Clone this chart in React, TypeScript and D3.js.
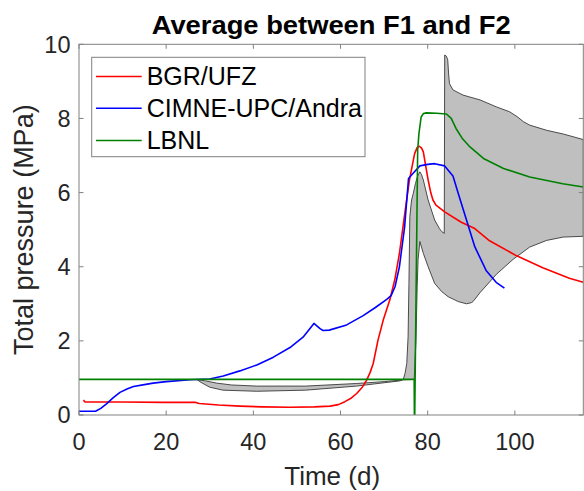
import React from "react";
import * as d3 from "d3";

// ---- Data ----
const redT = [1.0, 1.4, 10, 19.3, 26.8, 27.6, 32, 36.9, 42, 48.4, 54, 57.6, 59.5, 61, 62.5, 63.7, 65, 66, 66.8, 67.5, 68.6, 69.8, 71.3, 72.5, 73.5, 74.7, 75.8, 77.0, 77.6, 78.1, 78.6, 79.0, 79.5, 80.1, 80.7, 81.2, 81.9, 83.9, 87.7, 90.8, 94.2, 100.3, 106.4, 112.5, 115.7];
const redV = [0.40, 0.35, 0.35, 0.34, 0.34, 0.31, 0.27, 0.24, 0.22, 0.21, 0.22, 0.24, 0.28, 0.36, 0.46, 0.58, 0.75, 0.94, 1.15, 1.39, 2.02, 2.56, 3.1, 3.68, 4.35, 5.4, 6.33, 7.05, 7.22, 7.25, 7.2, 7.1, 6.75, 6.34, 6.0, 5.8, 5.66, 5.48, 5.2, 5.03, 4.7, 4.3, 3.97, 3.69, 3.58];

const blueT = [0, 3.8, 5, 6.3, 7.8, 9.4, 11, 12.5, 15, 17, 20, 25.5, 30, 33.1, 36.9, 40.8, 44.6, 48.4, 51.4, 53.9, 55.3, 56.0, 57.4, 61.4, 65.2, 68, 70.6, 71.6, 72.5, 73.5, 74.7, 75.6, 76.5, 78.2, 80, 81.6, 83.9, 85.8, 87, 88.9, 90.8, 93.4, 95.7, 97.6];
const blueV = [0.1, 0.1, 0.18, 0.3, 0.46, 0.61, 0.7, 0.77, 0.82, 0.86, 0.9, 0.95, 0.97, 1.05, 1.19, 1.35, 1.56, 1.82, 2.1, 2.47, 2.33, 2.28, 2.29, 2.43, 2.68, 2.9, 3.12, 3.22, 3.46, 3.99, 5.07, 6.38, 6.5, 6.72, 6.76, 6.78, 6.72, 6.45, 5.98, 5.26, 4.54, 3.9, 3.58, 3.42];

const greenT = [0, 76.9, 76.95, 77.02, 77.7, 78.0, 78.5, 79.0, 79.7, 82, 84.3, 85.4, 86.5, 88, 89.7, 92.8, 97.4, 103.4, 111, 115.7];
const greenV = [0.96, 0.96, -0.1, -0.1, 7.15, 7.6, 8.04, 8.13, 8.15, 8.14, 8.12, 8.0, 7.73, 7.45, 7.23, 6.92, 6.65, 6.42, 6.24, 6.15];

// envelope (grey band) of other results
const upperT = [27.0, 29, 31.6, 35, 40.8, 52, 63.7, 70, 73.6, 74.4, 74.8, 75.2, 75.5, 75.7, 75.9, 76.3, 76.7, 77.2, 77.7, 78.2, 78.6, 79.0, 80.1, 81.6, 82.7, 83.2, 83.8, 83.9, 84.3, 84.6, 84.8, 85.0, 85.8, 88.1, 92, 95.8, 98.8, 100.5, 102, 103.4, 107.3, 111.1, 115.7];
const upperV = [0.96, 0.92, 0.86, 0.81, 0.78, 0.78, 0.85, 0.9, 0.94, 0.96, 1.12, 1.39, 2.11, 3.55, 5.35, 5.8, 5.98, 6.25, 6.45, 6.56, 6.48, 6.34, 5.8, 5.26, 5.03, 4.95, 4.9, 9.71, 9.68, 9.58, 9.2, 8.94, 8.77, 8.63, 8.5, 8.31, 8.18, 8.05, 7.91, 7.82, 7.68, 7.58, 7.43];
const lowerT = [27.0, 28, 30, 33, 40.8, 52, 63.7, 70, 73.6, 74.4, 76.9, 77.3, 77.6, 77.8, 78.2, 79.0, 80.1, 81.6, 83.2, 84.7, 87, 88.9, 90.0, 90.4, 92, 95.8, 99.6, 103.4, 107.3, 111.1, 115.7];
const lowerV = [0.96, 0.88, 0.75, 0.67, 0.64, 0.67, 0.78, 0.87, 0.92, 0.95, 0.96, 2.0, 3.5, 4.2, 4.68, 4.36, 4.0, 3.55, 3.33, 3.19, 3.06, 3.0, 3.03, 3.06, 3.3, 3.8, 4.2, 4.53, 4.71, 4.8, 4.82];

const xTicks = [0, 20, 40, 60, 80, 100];
const yTicks = [0, 2, 4, 6, 8, 10];
const seriesNames = ["BGR/UFZ", "CIMNE-UPC/Andra", "LBNL"];
const seriesColors = ["#ff0000", "#0000ff", "#008000"];

const FONT = "'Liberation Sans', Arial, Helvetica, sans-serif";

type P = [number, number];
const zip = (t: number[], v: number[]): P[] => t.map((ti, i) => [ti, v[i]] as P);

export default function App() {
  const left = 79, right = 583.3, top = 44.3, bottom = 415;
  const x = d3.scaleLinear().domain([0, 115.7]).range([left, right]);
  const y = d3.scaleLinear().domain([0, 10]).range([bottom, top]);
  const line = d3.line<P>().x((d) => x(d[0])).y((d) => y(d[1]));

  const bandPts: P[] = [...zip(upperT, upperV), ...zip(lowerT, lowerV).reverse()];
  const bandPath = (line(bandPts) || "") + "Z";
  const series = [zip(redT, redV), zip(blueT, blueV), zip(greenT, greenV)];

  const axisColor = "#808080";
  const textColor = "#262626";
  const tl = 4.5;

  const legX = 91.7, legY = 57.3, legW = 273.3, legH = 99.4;
  const rowY = [76.5, 108.3, 140.5];

  return (
    <svg width={584} height={491} style={{ position: "absolute", left: 0, top: 0, background: "#fff" }} fontFamily={FONT}>
      <defs>
        <clipPath id="plot">
          <rect x={left} y={top} width={right - left} height={bottom - top} />
        </clipPath>
      </defs>
      <rect x={0} y={0} width={584} height={491} fill="#fff" />
      <g clipPath="url(#plot)">
        <path d={bandPath} fill="#bfbfbf" stroke="#3a3a3a" strokeWidth={0.9} strokeLinejoin="round" />
        {series.map((s, i) => (
          <path key={i} d={line(s) || ""} fill="none" stroke={seriesColors[i]} strokeWidth={1.6} strokeLinejoin="round" />
        ))}
      </g>
      {/* axes box */}
      <rect x={left} y={top} width={right - left} height={bottom - top} fill="none" stroke={axisColor} strokeWidth={1} />
      {xTicks.map((t) => (
        <g key={"xt" + t}>
          <line x1={x(t)} x2={x(t)} y1={bottom} y2={bottom - tl} stroke={axisColor} />
          <line x1={x(t)} x2={x(t)} y1={top} y2={top + tl} stroke={axisColor} />
          <text x={x(t)} y={449.5} textAnchor="middle" fontSize={23.5} fill={textColor}>{t}</text>
        </g>
      ))}
      {yTicks.map((v) => (
        <g key={"yt" + v}>
          <line x1={left} x2={left + tl} y1={y(v)} y2={y(v)} stroke={axisColor} />
          <line x1={right} x2={right - tl} y1={y(v)} y2={y(v)} stroke={axisColor} />
          <text x={70.5} y={y(v) + 8.4} textAnchor="end" fontSize={23.5} fill={textColor}>{v}</text>
        </g>
      ))}
      {/* labels */}
      <text x={(left + right) / 2 + 1} y={485} textAnchor="middle" fontSize={26} fill={textColor}>Time (d)</text>
      <text transform={`translate(32.6, ${(top + bottom) / 2}) rotate(-90)`} textAnchor="middle" fontSize={27} fill={textColor}>Total pressure (MPa)</text>
      <text x={331.2} y={33.5} textAnchor="middle" fontSize={26} fontWeight="bold" fill="#000" textLength={359} lengthAdjust="spacingAndGlyphs">Average between F1 and F2</text>
      {/* legend */}
      <rect x={legX} y={legY} width={legW} height={legH} fill="#fff" stroke={axisColor} strokeWidth={1} />
      {seriesNames.map((n, i) => (
        <g key={n}>
          <line x1={96} x2={141.7} y1={rowY[i]} y2={rowY[i]} stroke={seriesColors[i]} strokeWidth={1.6} />
          <text x={146.7} y={rowY[i] + 8.8} fontSize={25} fill="#000">{n}</text>
        </g>
      ))}
    </svg>
  );
}
